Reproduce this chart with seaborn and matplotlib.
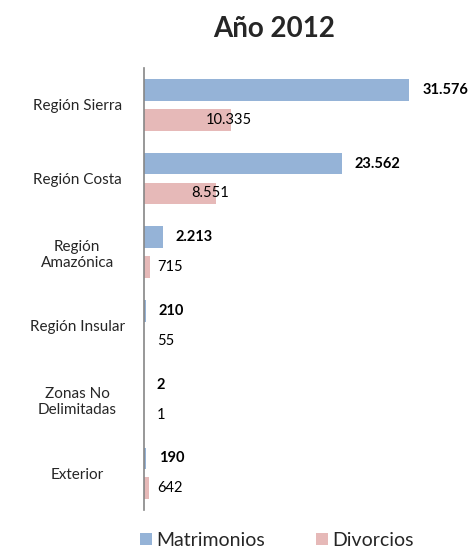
import pandas as pd
import seaborn as sns
import matplotlib.pyplot as plt

# datos del gráfico
regiones = ["Región Sierra", "Región Costa", "Región\nAmazónica", "Región Insular",
            "Zonas No\nDelimitadas", "Exterior"]
matrimonios = [31576, 23562, 2213, 210, 2, 190]
divorcios = [10335, 8551, 715, 55, 1, 642]
series = ["Matrimonios", "Divorcios"]
colores = ["#95B3D7", "#E6B9B8"]

df = pd.DataFrame({
    "region": regiones * 2,
    "valor": matrimonios + divorcios,
    "serie": [series[0]] * len(regiones) + [series[1]] * len(regiones),
})

sns.set_style("white")
plt.rcParams["font.family"] = ["Lato", "DejaVu Sans"]

fig, ax = plt.subplots(figsize=(4.75, 5.48), dpi=100)
fig.subplots_adjust(left=0.303, right=0.94, top=0.876, bottom=0.069)

sns.barplot(data=df, y="region", x="valor", hue="serie", hue_order=series,
            palette=colores, saturation=1, width=0.81, gap=0.27, orient="h",
            linewidth=0, ax=ax)

ax.set_xlim(0, 36000)
ax.set_xlabel("")
ax.set_ylabel("")
ax.set_xticks([])
ax.tick_params(axis="y", length=0, labelsize=11, pad=48)
for lbl in ax.get_yticklabels():
    lbl.set_horizontalalignment("center")
    lbl.set_multialignment("center")

for s in ["top", "right", "bottom"]:
    ax.spines[s].set_visible(False)
ax.spines["left"].set_color("#868686")
ax.spines["left"].set_linewidth(1.2)

fig.suptitle("Año 2012", x=0.577, y=0.97, fontsize=20, fontweight="bold")

# etiquetas de valores
ax_px = ax.get_window_extent().width
unit = 36000 / ax_px  # datos por pixel


def fmt(v):
    return f"{v:,}".replace(",", ".")


for bar in ax.containers[0]:
    v = bar.get_width()
    yc = bar.get_y() + bar.get_height() / 2
    ax.text(v + 13 * unit, yc, fmt(int(v)), va="center", ha="left",
            fontsize=10.5, fontweight="bold", color="black")

for bar in ax.containers[1]:
    v = bar.get_width()
    yc = bar.get_y() + bar.get_height() / 2
    x = max(13 * unit, v - 25 * unit)
    ax.text(x, yc, fmt(int(v)), va="center", ha="left", fontsize=10.5, color="black")

ax.legend(loc="upper center", bbox_to_anchor=(0.44, -0.01), ncol=2, frameon=False,
          fontsize=14, handlelength=0.6, handleheight=0.6, handletextpad=0.25,
          columnspacing=2.6)

plt.savefig("out.png", dpi=100)
